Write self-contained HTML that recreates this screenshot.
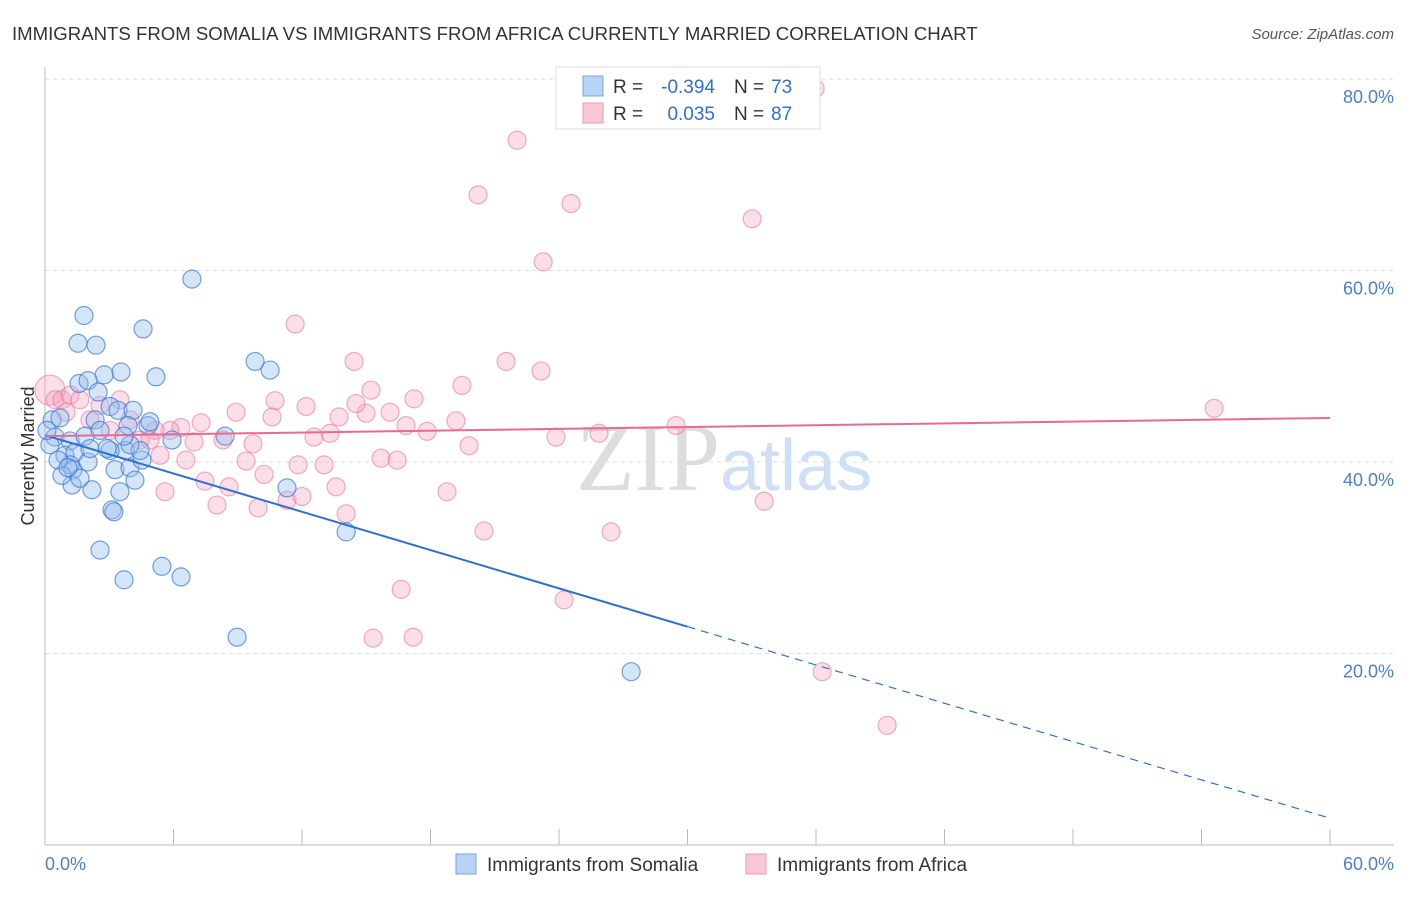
<!DOCTYPE html>
<html><head><meta charset="utf-8"><style>
body{margin:0;background:#fff;font-family:"Liberation Sans",sans-serif;}
</style></head><body>
<svg width="1406" height="892" xmlns="http://www.w3.org/2000/svg" font-family="Liberation Sans, sans-serif">
<text x="12" y="40" font-size="18.6" fill="#333">IMMIGRANTS FROM SOMALIA VS IMMIGRANTS FROM AFRICA CURRENTLY MARRIED CORRELATION CHART</text>
<text x="1394" y="39" font-size="15" fill="#555" font-style="italic" text-anchor="end">Source: ZipAtlas.com</text>
<text x="720" y="490" font-size="96" fill="#ddd" font-family="Liberation Serif, serif" text-anchor="end">ZIP</text>
<text x="720" y="490" font-size="72" fill="#cfe0f4">atlas</text>
<g id="grid"></g>
<g id="axes"></g>
<g id="pts"></g>
<g id="lines"></g>
<text x="34" y="456" font-size="18" fill="#333" text-anchor="middle" transform="rotate(-90 34 456)">Currently Married</text>
<text x="45" y="870" font-size="18" fill="#4a7fd0">0.0%</text>
<text x="1394" y="870" font-size="18" fill="#4a7fd0" text-anchor="end">60.0%</text>
<g>
<rect x="556" y="67" width="264" height="62" fill="#fff" stroke="#ddd"/>
<rect x="583" y="76" width="20" height="20" fill="#b8d3f5" stroke="#7aa7e0"/>
<rect x="583" y="103" width="20" height="20" fill="#f9c6d6" stroke="#ee9ab5"/>
<text x="613" y="93" font-size="19" fill="#333">R =</text>
<text x="715" y="93" font-size="19" fill="#2f6fd0" text-anchor="end">-0.394</text>
<text x="734" y="93" font-size="19" fill="#333">N =</text>
<text x="771" y="93" font-size="19" fill="#2f6fd0">73</text>
<text x="613" y="120" font-size="19" fill="#333">R =</text>
<text x="715" y="120" font-size="19" fill="#2f6fd0" text-anchor="end">0.035</text>
<text x="734" y="120" font-size="19" fill="#333">N =</text>
<text x="771" y="120" font-size="19" fill="#2f6fd0">87</text>
</g>
<g>
<rect x="456" y="854" width="20" height="20" fill="#b8d3f5" stroke="#7aa7e0"/>
<text x="487" y="871" font-size="19" fill="#333">Immigrants from Somalia</text>
<rect x="746" y="854" width="20" height="20" fill="#f9c6d6" stroke="#ee9ab5"/>
<text x="777" y="871" font-size="19" fill="#333">Immigrants from Africa</text>
</g>
</svg>
<script>
const somaliaX=[6.86,1.82,4.58,1.54,2.38,9.81,10.51,3.55,5.18,2.76,1.59,2.01,2.48,0.33,0.70,0.47,1.17,1.87,3.04,3.41,4.11,4.81,3.88,2.34,0.93,1.40,1.17,1.31,2.01,3.27,3.97,3.74,4.53,4.20,3.50,2.19,1.26,3.13,3.22,2.57,3.69,5.46,6.35,8.97,27.37,14.06,11.30,8.41,5.93,0.79,1.63,0.23,3.04,4.44,0.61,0.09,2.90,3.97,2.10,3.69,1.07,2.57,4.90];
const somaliaY=[59.1,55.3,53.9,52.4,52.2,50.5,49.6,49.4,48.9,49.1,48.2,48.5,47.3,44.4,44.6,42.6,42.2,42.7,45.8,45.4,45.4,43.8,43.8,44.4,40.7,41.0,39.7,39.2,40.0,39.2,39.4,41.2,40.2,38.1,36.9,37.1,37.6,35.0,34.8,30.8,27.7,29.1,28.0,21.7,18.1,32.7,37.3,42.7,42.3,38.6,38.3,41.8,41.2,41.2,40.2,43.3,41.4,41.8,41.4,42.7,39.4,43.3,44.2];
const africaX=[35.96,22.04,20.22,24.56,33.02,23.26,11.68,14.43,21.53,23.16,19.47,15.22,54.59,10.74,12.19,17.23,8.92,10.60,13.73,16.11,14.99,19.19,14.52,16.86,17.84,7.29,6.35,5.84,29.47,25.87,23.86,13.31,12.56,9.71,8.31,6.96,5.14,5.37,6.58,9.39,11.82,13.03,15.69,16.44,19.80,7.47,8.59,10.23,11.30,12.00,13.59,14.06,18.77,5.60,8.03,9.95,20.50,26.43,33.58,24.24,16.63,15.32,17.19,36.29,39.32,0.23,0.47,0.79,1.17,1.63,2.57,3.50,3.97,4.44,2.10,3.04,4.90,0.98];
const africaY=[79.0,73.6,67.9,67.0,65.4,60.9,54.4,50.5,50.5,49.5,48.0,47.5,45.6,46.4,45.8,46.6,45.2,44.7,44.7,45.2,45.1,44.3,46.1,43.8,43.2,44.1,43.6,43.3,43.8,43.0,42.6,43.0,42.6,41.9,42.3,42.1,43.3,40.7,40.2,40.1,39.7,39.7,40.4,40.2,41.7,38.0,37.4,38.7,36.0,36.4,37.4,34.6,36.9,36.9,35.5,35.2,32.8,32.7,35.9,25.6,26.7,21.6,21.7,18.1,12.5,47.5,46.5,46.5,47.0,46.5,45.9,46.5,44.4,42.3,44.4,43.3,42.3,45.2];
const yTicks=[20,40,60,80];
const yTickLabels=["20.0%","40.0%","60.0%","80.0%"];
const xTicks=[0,6,12,18,24,30,36,42,48,54,60];
const somaliaTrend=[42.8,2.8];
const somaliaSolidEnd=30;
const africaTrend=[42.7,44.6];
const X0=45,X1=1330,Y0=845,Y80=79;
const sx=v=>X0+(v/60)*(X1-X0);
const sy=v=>Y0-(v/80)*(Y0-Y80);
const NS="http://www.w3.org/2000/svg";
function mk(t,a,p){const e=document.createElementNS(NS,t);for(const k in a)e.setAttribute(k,a[k]);p.appendChild(e);return e;}
const grid=document.getElementById('grid'),axes=document.getElementById('axes'),pts=document.getElementById('pts'),lines=document.getElementById('lines');
yTicks.forEach((t,i)=>{
 const l=mk('line',{x1:X0,x2:1394,y1:sy(t),y2:sy(t),stroke:'#ddd','stroke-dasharray':'4,4'},grid);
 
 
 const tx=mk('text',{x:1394,y:sy(t)+24,'font-size':18,fill:'#4a7fd0','text-anchor':'end'},grid);
 tx.textContent=yTickLabels[i];
 
 
});
const ax=mk('line',{x1:X0,x2:X0,y1:67,y2:Y0,stroke:'#bbb'},axes);


const bx=mk('line',{x1:X0,x2:1394,y1:Y0,y2:Y0,stroke:'#bbb'},axes);


xTicks.forEach(t=>{
 const l=mk('line',{x1:sx(t),x2:sx(t),y1:829,y2:Y0,stroke:'#bbb'},axes);
 
 
});
africaX.forEach((v,i)=>{
 const c=mk('circle',{cx:sx(v),cy:sy(africaY[i]),r:(i==65?15:9),fill:'rgba(244,160,188,0.35)',stroke:'rgba(232,120,160,0.6)','stroke-width':1.2},pts);
 
 
});
somaliaX.forEach((v,i)=>{
 const c=mk('circle',{cx:sx(v),cy:sy(somaliaY[i]),r:9,fill:'rgba(150,190,238,0.4)',stroke:'rgba(60,120,210,0.7)','stroke-width':1.2},pts);
 
 
});
const sAt=x=>somaliaTrend[0]+(somaliaTrend[1]-somaliaTrend[0])*x/60;
const t1=mk('line',{x1:sx(0),y1:sy(sAt(0)),x2:sx(somaliaSolidEnd),y2:sy(sAt(somaliaSolidEnd)),stroke:'#2f6fd0','stroke-width':2},lines);


const t2=mk('line',{x1:sx(somaliaSolidEnd),y1:sy(sAt(somaliaSolidEnd)),x2:sx(60),y2:sy(sAt(60)),stroke:'#2f6fd0','stroke-width':1.2,'stroke-dasharray':'8,6'},lines);


const t3=mk('line',{x1:sx(0),y1:sy(africaTrend[0]),x2:sx(60),y2:sy(africaTrend[1]),stroke:'#e86a93','stroke-width':2},lines);


</script>
</body></html>
